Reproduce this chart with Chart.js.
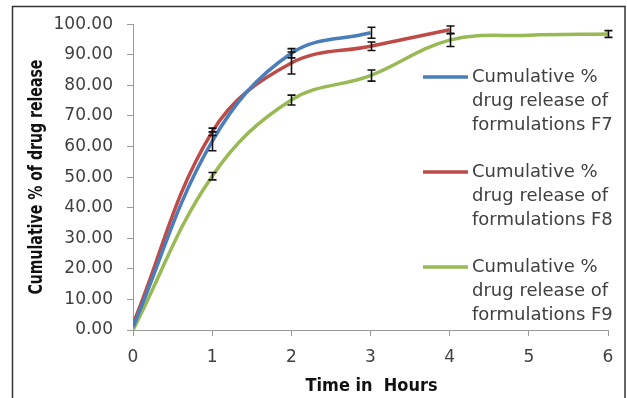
<!DOCTYPE html>
<html>
<head>
<meta charset="utf-8">
<script src="https://cdn.jsdelivr.net/npm/chart.js@4.4.1/dist/chart.umd.min.js"></script>
<style>
  html, body { margin: 0; padding: 0; background: #fff; }
  #wrap { position: relative; width: 627px; height: 398px; }
  canvas { display: block; }
</style>
</head>
<body>
<div id="wrap"><canvas id="c" width="627" height="398"></canvas></div>
<script>
// Sampling times (hours) and x-axis ticks
const hours = [0, 1, 2, 3, 4, 5, 6];

// Cumulative % drug release per formulation
const f7Release = [1.0, 61.7, 90.5, 97.2];
const f8Release = [2.0, 64.8, 87.3, 92.8, 98.2];
const f9Release = [0.0, 50.3, 75.2, 83.2, 94.8, 96.4, 96.8];

// Standard deviation (error bar half-length) per point
const f7Error = [0, 3.1, 1.5, 1.8];
const f8Error = [0, 1.2, 3.6, 1.4, 1.2];
const f9Error = [0, 1.2, 1.6, 1.8, 2.1, 0, 1.1];

const seriesLabels = [
  'Cumulative % drug release of formulations F7',
  'Cumulative % drug release of formulations F8',
  'Cumulative % drug release of formulations F9'
];
const seriesColors = ['#4A7EBB', '#BE4B48', '#98B954'];

const yTicks = [0, 10, 20, 30, 40, 50, 60, 70, 80, 90, 100];

const xTitle = 'Time in  Hours';
const yTitle = 'Cumulative % of drug release';

function toPoints(values) {
  return values.map((v, i) => ({ x: hours[i], y: v }));
}

// Split a legend label into three lines: "Cumulative %" / "drug release of" / "formulations Fx"
function wrapLabel(label) {
  const w = label.split(' ');
  return [w.slice(0, 2).join(' '), w.slice(2, 5).join(' '), w.slice(5).join(' ')];
}

const errorBars = {
  id: 'errorBars',
  afterDatasetsDraw(chart) {
    const ctx = chart.ctx;
    const ys = chart.scales.y;
    ctx.save();
    ctx.strokeStyle = '#111';
    ctx.lineWidth = 1.6;
    chart.data.datasets.forEach((ds, di) => {
      const meta = chart.getDatasetMeta(di);
      meta.data.forEach((pt, i) => {
        const e = ds.errors[i];
        if (!e) return;
        const v = ds.data[i].y;
        const x = Math.round(pt.x) + 0.5;
        const y1 = ys.getPixelForValue(v + e);
        const y2 = ys.getPixelForValue(v - e);
        ctx.beginPath();
        ctx.moveTo(x, y1); ctx.lineTo(x, y2);
        ctx.moveTo(x - 4, y1); ctx.lineTo(x + 4, y1);
        ctx.moveTo(x - 4, y2); ctx.lineTo(x + 4, y2);
        ctx.stroke();
      });
    });
    ctx.restore();
  }
};

const sideLegend = {
  id: 'sideLegend',
  afterDraw(chart) {
    const ctx = chart.ctx;
    ctx.save();
    ctx.font = '18px "DejaVu Sans"';
    ctx.textBaseline = 'middle';
    ctx.textAlign = 'left';
    chart.data.datasets.forEach((ds, di) => {
      const top = 77 + di * 95;
      ctx.strokeStyle = ds.borderColor;
      ctx.lineWidth = 3.5;
      ctx.beginPath();
      ctx.moveTo(423, top);
      ctx.lineTo(468, top);
      ctx.stroke();
      ctx.fillStyle = '#404040';
      wrapLabel(ds.label).forEach((line, li) => {
        ctx.fillText(line, 472, top + li * 24);
      });
    });
    ctx.restore();
  }
};

// Axis titles, fitted to a set length along the text direction
function fittedText(ctx, text, font, length) {
  ctx.font = font;
  const w = ctx.measureText(text).width;
  ctx.scale(length / w, 1);
  ctx.fillText(text, 0, 0);
}

const axisTitles = {
  id: 'axisTitles',
  afterDraw(chart) {
    const ctx = chart.ctx;
    const area = chart.chartArea;
    ctx.save();
    ctx.fillStyle = '#111';
    ctx.textAlign = 'center';
    ctx.textBaseline = 'alphabetic';
    ctx.save();
    ctx.translate((area.left + area.right) / 2 + 1, 391);
    fittedText(ctx, xTitle, 'bold 18px "DejaVu Sans"', 132);
    ctx.restore();
    ctx.save();
    ctx.translate(42, (area.top + area.bottom) / 2);
    ctx.rotate(-Math.PI / 2);
    fittedText(ctx, yTitle, 'bold 20px "DejaVu Sans"', 235);
    ctx.restore();
    ctx.restore();
  }
};

const frame = {
  id: 'frame',
  beforeDraw(chart) {
    const ctx = chart.ctx;
    ctx.save();
    ctx.fillStyle = '#fff';
    ctx.fillRect(0, 0, chart.width, chart.height);
    ctx.strokeStyle = '#333';
    ctx.lineWidth = 1.5;
    ctx.beginPath();
    ctx.moveTo(12.5, 420);
    ctx.lineTo(12.5, 6.5);
    ctx.lineTo(625, 6.5);
    ctx.lineTo(625, 420);
    ctx.stroke();
    ctx.restore();
  }
};

const releases = [f7Release, f8Release, f9Release];
const errors = [f7Error, f8Error, f9Error];

new Chart(document.getElementById('c'), {
  type: 'line',
  data: {
    datasets: releases.map((vals, i) => ({
      label: seriesLabels[i],
      data: toPoints(vals),
      errors: errors[i],
      borderColor: seriesColors[i],
      backgroundColor: seriesColors[i],
      borderWidth: 3.5,
      pointRadius: 0,
      tension: 0.38,
      fill: false
    }))
  },
  options: {
    responsive: false,
    animation: false,
    layout: { padding: { top: 23, right: 19, left: 0, bottom: 0 } },
    plugins: { legend: { display: false }, tooltip: { enabled: false } },
    scales: {
      x: {
        type: 'linear',
        min: 0, max: 6,
        afterFit(s) { s.height = 68; },
        afterBuildTicks(s) { s.ticks = hours.map(v => ({ value: v })); },
        grid: { drawOnChartArea: false, drawTicks: true, tickLength: 6, color: '#9a9a9a' },
        border: { display: true, color: '#9a9a9a', width: 1 },
        ticks: { padding: 11, color: '#404040', font: { family: 'DejaVu Sans', size: 17 } }
      },
      y: {
        min: 0, max: 100,
        afterFit(s) { s.width = 133; },
        afterBuildTicks(s) { s.ticks = yTicks.map(v => ({ value: v })); },
        grid: { drawOnChartArea: false, drawTicks: true, tickLength: 6, color: '#9a9a9a' },
        border: { display: true, color: '#9a9a9a', width: 1 },
        ticks: {
          padding: 14, color: '#404040', font: { family: 'DejaVu Sans', size: 17 },
          callback: v => Number(v).toFixed(2)
        }
      }
    }
  },
  plugins: [frame, errorBars, sideLegend, axisTitles]
});
</script>
</body>
</html>
